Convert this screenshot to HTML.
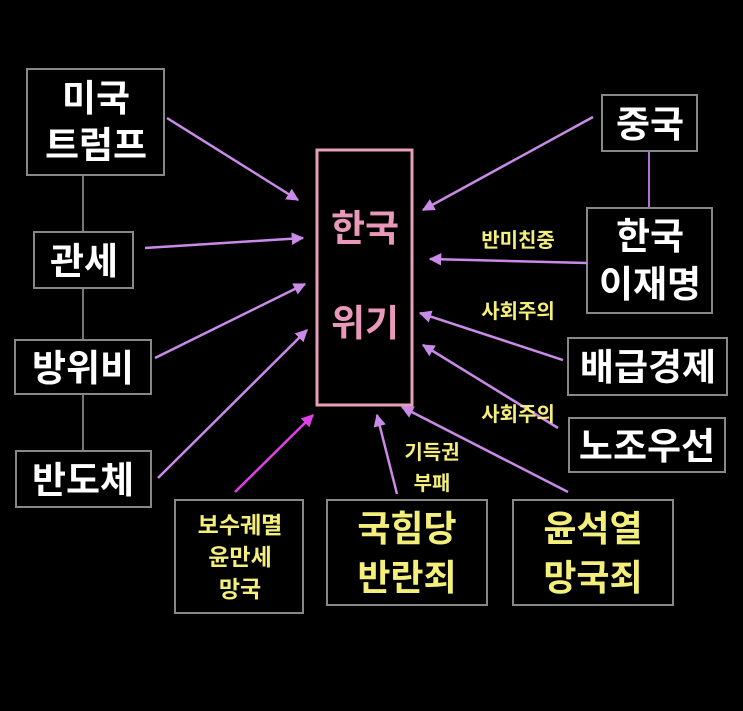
<!DOCTYPE html>
<html><head><meta charset="utf-8"><style>
html,body{margin:0;padding:0;background:#000;}
svg text{font-family:"Liberation Sans","Noto Sans CJK KR",sans-serif;font-weight:bold;text-anchor:middle;}
</style></head><body>
<svg width="743" height="706" viewBox="0 0 743 706" xmlns="http://www.w3.org/2000/svg">
<defs>
<marker id="a" viewBox="0 0 10 10" refX="9" refY="5" markerWidth="5" markerHeight="5" orient="auto"><path d="M0,0L10,5L0,10z" fill="#c98ae8"/></marker>
<marker id="m" viewBox="0 0 10 10" refX="9" refY="5" markerWidth="5" markerHeight="5" orient="auto"><path d="M0,0L10,5L0,10z" fill="#e040e8"/></marker>
</defs>
<rect width="743" height="706" fill="#000"/>
<line x1="83" y1="175" x2="83" y2="232" stroke="#777" stroke-width="2"/>
<line x1="83" y1="288" x2="83" y2="340" stroke="#777" stroke-width="2"/>
<line x1="83" y1="394" x2="83" y2="451" stroke="#777" stroke-width="2"/>
<line x1="649" y1="151" x2="649" y2="208" stroke="#b070d0" stroke-width="2"/>
<g fill="none" stroke="#888" stroke-width="2">
<rect x="27" y="69" width="137" height="106"/>
<rect x="34" y="232" width="99" height="56"/>
<rect x="15" y="340" width="136" height="54"/>
<rect x="16" y="451" width="135" height="56"/>
<rect x="602" y="95" width="95" height="56"/>
<rect x="587" y="208" width="125" height="105"/>
<rect x="568" y="338" width="159" height="57"/>
<rect x="569" y="418" width="156" height="54"/>
<rect x="175" y="500" width="128" height="113"/>
<rect x="327" y="500" width="160" height="105"/>
<rect x="513" y="500" width="160" height="105"/>
</g>
<rect x="317" y="150" width="95" height="255" fill="none" stroke="#e8a0b8" stroke-width="3"/>
<g stroke="#c98ae8" stroke-width="2.5" marker-end="url(#a)">
<line x1="167" y1="118" x2="298" y2="200"/>
<line x1="145" y1="248" x2="303" y2="238"/>
<line x1="155" y1="358" x2="305" y2="284"/>
<line x1="158" y1="478" x2="307" y2="330"/>
<line x1="397" y1="494" x2="377" y2="415"/>
<line x1="568" y1="492" x2="402" y2="407"/>
<line x1="593" y1="117" x2="423" y2="210"/>
<line x1="587" y1="263" x2="430" y2="259"/>
<line x1="563" y1="360" x2="420" y2="313"/>
<line x1="558" y1="428" x2="423" y2="345"/>
</g>
<line x1="235" y1="492" x2="313" y2="415" stroke="#e040e8" stroke-width="2.5" marker-end="url(#m)"/>
<g fill="#fff" font-size="37">
<text x="96" y="111">미국</text>
<text x="96" y="158">트럼프</text>
<text x="84" y="274">관세</text>
<text x="83" y="381">방위비</text>
<text x="83" y="493">반도체</text>
<text x="650" y="137">중국</text>
<text x="650" y="249">한국</text>
<text x="650" y="297">이재명</text>
<text x="648" y="380">배급경제</text>
<text x="647" y="459">노조우선</text>
</g>
<g fill="#e898b8" font-size="37">
<text x="365" y="241">한국</text>
<text x="365" y="336">위기</text>
</g>
<g fill="#f4ee7a" font-size="20">
<text x="518" y="247">반미친중</text>
<text x="518" y="318">사회주의</text>
<text x="518" y="421">사회주의</text>
<text x="432" y="459">기득권</text>
<text x="432" y="490">부패</text>
<text x="240" y="533" font-size="23">보수궤멸</text>
<text x="240" y="565" font-size="23">윤만세</text>
<text x="240" y="597" font-size="23">망국</text>
</g>
<g fill="#f4ee7a" font-size="36">
<text x="407" y="541">국힘당</text>
<text x="407" y="590">반란죄</text>
<text x="593" y="541">윤석열</text>
<text x="593" y="590">망국죄</text>
</g>
</svg>
</body></html>
